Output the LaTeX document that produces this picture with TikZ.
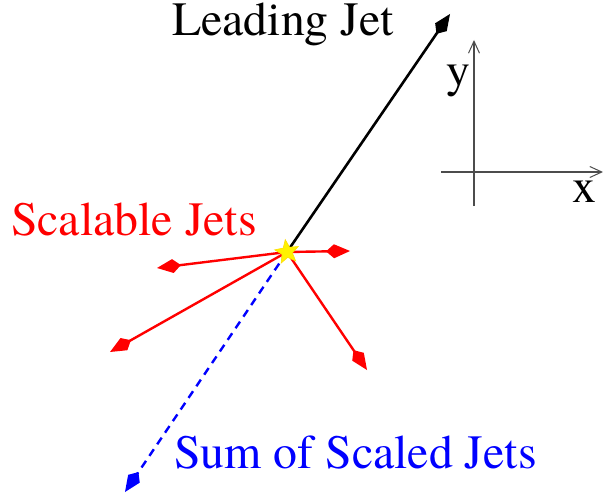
\documentclass[tikz,border=0pt]{standalone}
\usepackage{fontspec}
\setmainfont{TeX Gyre Termes}
\usetikzlibrary{arrows.meta,shapes.geometric}
\begin{document}
\begin{tikzpicture}[x=1pt,y=-1pt,
  lbl/.style={font=\fontsize{47.8}{56}\selectfont, inner sep=0pt, anchor=base west},
  jetline/.style={line width=2.6pt, -{Kite[length=24pt,width=14pt,inset=8pt]}},
  redjet/.style={jetline, red, line width=2.4pt},
  axis/.style={line width=1.3pt, color=black!70, -{Straight Barb[length=12pt,width=11pt,line width=1pt]}}]
\useasboundingbox (0,0) rectangle (603,495);
% origin of jets
\coordinate (o) at (287,252);
\coordinate (lead) at (450,14);
\coordinate (r1) at (350,251);
\coordinate (r2) at (157,268);
\coordinate (r3) at (110,352);
\coordinate (r4) at (367,370);
\coordinate (sum) at (125,492);
% axes
\coordinate (xa) at (441,172);
\coordinate (xb) at (603,172);
\coordinate (ya) at (474,206);
\coordinate (yb) at (474,40);
\draw[axis] (xa) -- (xb);
\draw[axis] (ya) -- (yb);
\node[lbl] (ylab) at (446,87) {y};
\node[lbl] (xlab) at (572,202) {x};
% jets
\draw[jetline, black] (o) -- (lead);
\draw[redjet] (o) -- (r1);
\draw[redjet] (o) -- (r2);
\draw[redjet] (o) -- (r3);
\draw[redjet] (o) -- (r4);
\draw[jetline, blue, line width=2.4pt, dash pattern=on 8pt off 6pt] (o) -- (sum);
\node[star, star points=5, star point ratio=2.3, fill=yellow, draw=yellow!80!orange, line width=0.6pt, minimum size=25pt, inner sep=0pt, rotate=8] (st) at (o) {};
% labels
\node[lbl] (lj) at (172,36) {Leading Jet};
\node[lbl, red] (sj) at (11,235) {Scalable Jets};
\node[lbl, blue] (ssj) at (174,468) {Sum of Scaled Jets};
\end{tikzpicture}
\end{document}
